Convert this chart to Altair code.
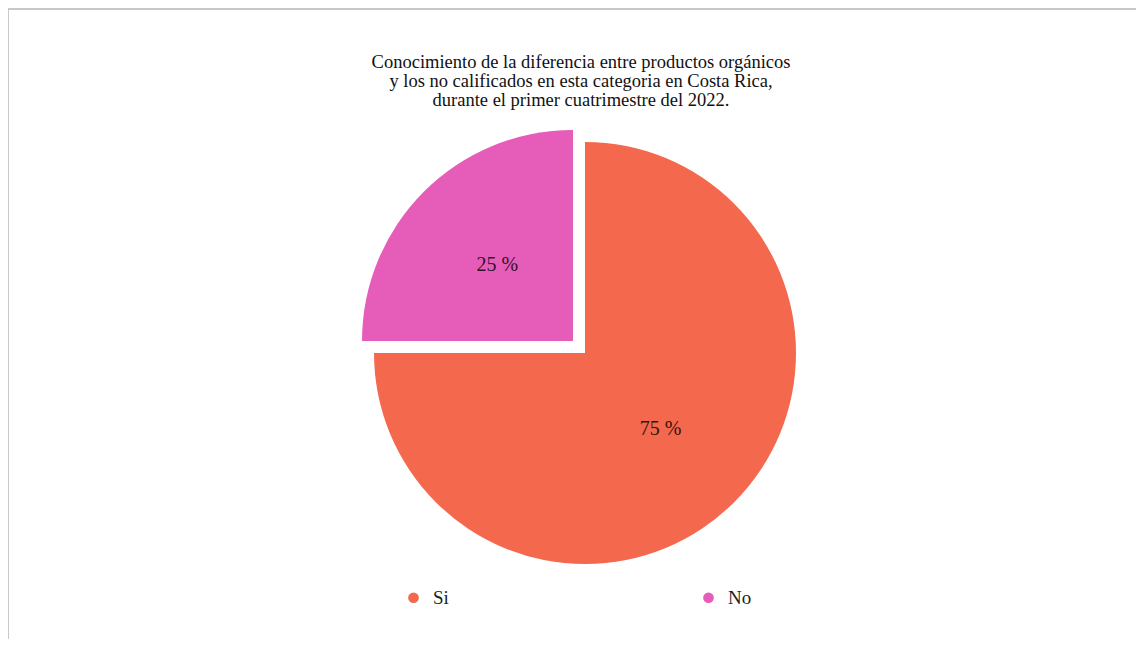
import math
import altair as alt
import pandas as pd

# ---- data ----
categorias = ["Si", "No"]
porcentajes = [75, 25]
orden = [0, 1]
colores = ["#F4694E", "#E65DB9"]
titulo = [
    "Conocimiento de la diferencia entre productos orgánicos",
    "y los no calificados en esta categoria en Costa Rica,",
    "durante el primer cuatrimestre del 2022.",
]

W, H = 1128, 631
FONT = "Liberation Serif"
CX, CY = 577, 345       # pie centre (view px)
EXPLODE = 12            # offset of the exploded slice
R = 211

df = pd.DataFrame({"categoria": categorias, "porcentaje": porcentajes, "orden": orden})

base = (
    alt.Chart(df)
    .transform_window(cum="sum(porcentaje)", sort=[alt.SortField("orden")], frame=[None, 0])
    .transform_calculate(
        inicio="datum.cum - datum.porcentaje",
        medio="datum.cum - datum.porcentaje / 2",
        etiqueta="datum.porcentaje + ' %'",
    )
)

theta_scale = alt.Scale(domain=[0, 100])
color = alt.Color(
    "categoria:N",
    scale=alt.Scale(domain=categorias, range=colores),
    legend=alt.Legend(
        title=None,
        orient="none",
        legendX=396,
        legendY=580,
        direction="horizontal",
        columns=2,
        symbolType="circle",
        symbolSize=115,
        symbolStrokeWidth=0,
        labelFont=FONT,
        labelFontSize=19,
        labelColor="#222222",
        labelOffset=10,
        columnPadding=250,
        padding=0,
    ),
)


def slice_layer(cat, cx, cy):
    return (
        base.transform_filter(alt.datum.categoria == cat)
        .mark_arc(radius=R, stroke=None)
        .encode(
            x=alt.value(cx),
            y=alt.value(cy),
            theta=alt.Theta("inicio:Q", scale=theta_scale),
            theta2="cum:Q",
            color=color,
        )
    )


def label_layer(cat, cx, cy):
    return (
        base.transform_filter(alt.datum.categoria == cat)
        .mark_text(font=FONT, fontSize=20, color="black", opacity=0.8)
        .encode(
            x=alt.value(cx),
            y=alt.value(cy),
            theta=alt.Theta("medio:Q", scale=theta_scale),
            radius=alt.value(107),
            text="etiqueta:N",
        )
    )


frame_df = pd.DataFrame({"k": [0]})
frame_top = alt.Chart(frame_df).mark_rule(color="#c8c8c8", strokeWidth=2).encode(
    x=alt.value(0), x2=alt.value(W), y=alt.value(1)
)
frame_left = alt.Chart(frame_df).mark_rule(color="#c8c8c8", strokeWidth=2).encode(
    x=alt.value(0), y=alt.value(0), y2=alt.value(H)
)

chart = (
    alt.layer(
        frame_top,
        frame_left,
        slice_layer("Si", CX, CY),
        slice_layer("No", CX - EXPLODE, CY - EXPLODE),
        label_layer("Si", CX, CY),
        label_layer("No", CX - EXPLODE, CY - EXPLODE),
    )
    .properties(
        width=W,
        height=H,
        padding=0,
        autosize=alt.AutoSizeParams(type="none"),
        title=alt.TitleParams(
            text=titulo,
            font=FONT,
            fontSize=18.5,
            fontWeight="normal",
            color="#111111",
            lineHeight=19,
            anchor="middle",
            dx=9,
            offset=-102,
        ),
    )
    .configure_view(stroke=None)
    .resolve_scale(theta="shared")
)

chart.save("out.html", embed_options={"renderer": "svg", "actions": False})
